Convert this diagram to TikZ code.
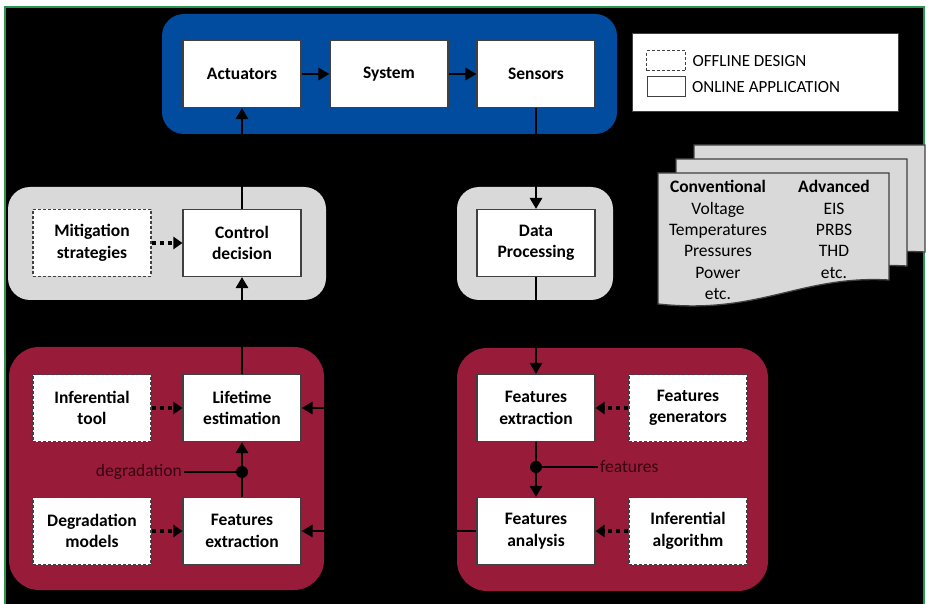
\documentclass[tikz,border=0pt]{standalone}
\definecolor{ctrlBlue}{RGB}{1,76,158}
\definecolor{stageRed}{RGB}{152,27,58}
\definecolor{panelGray}{RGB}{217,217,217}
\definecolor{edgeGray}{RGB}{64,64,64}
\definecolor{labelRed}{RGB}{55,4,16}
\definecolor{frameGreen}{RGB}{40,150,80}
\usepackage{fontspec}
\setmainfont{Carlito}
\usepackage{tikz}
\usetikzlibrary{arrows.meta,positioning,calc}

\begin{document}
\begin{tikzpicture}[x=1pt,y=-1pt,
        online/.style={draw=edgeGray, line width=1.1pt, fill=white,
          minimum width=118pt, minimum height=67pt, inner sep=0pt, align=center,
          font=\fontsize{17.5}{21.5}\selectfont\bfseries},
        offline/.style={online, dash pattern=on 3pt off 2pt},
        panel/.style={rounded corners=22pt},
        sig/.style={line width=2.8pt, -{Triangle[length=11pt,width=12pt]}},
        design/.style={line width=3.5pt, dash pattern=on 4.5pt off 3.5pt,
          -{Triangle[length=9pt,width=12pt]}},
        lbl/.style={text=labelRed, inner sep=2pt, font=\fontsize{17.5}{20}\selectfont},
        sheet/.style={fill=panelGray, draw=edgeGray, line width=1.3pt},
        >=Stealth
      ]
        \useasboundingbox (0,0) rectangle (930,604);
        % frame
        \fill[black] (5,7) rectangle (924,604);
        \draw[frameGreen, line width=1.2pt] (5,604) -- (5,7) -- (924,7) -- (924,604);

        % panels
        \fill[ctrlBlue, panel] (162,14) rectangle (617,134);
        \fill[panelGray, panel] (8,187) rectangle (326,300);
        \fill[panelGray, panel] (457,187) rectangle (613,300);
        \fill[stageRed, rounded corners=30pt] (9,347) rectangle (324,590);
        \fill[stageRed, rounded corners=30pt] (457,348) rectangle (768,591);

        % loop
        \node[online] (act) at (242,74) {Actuators};
        \node[online] (sys) at (389,74) {System};
        \node[online] (sen) at (536,74) {Sensors};
        \node[offline] (mit) at (92,243) {Mitigation\\strategies};
        \node[online] (ctl) at (242,243) {Control\\decision};
        \node[online] (dat) at (536,243) {Data\\Processing};

        % lifetime block
        \node[offline] (inf) at (92,408) {Inferential\\tool};
        \node[online] (lt) at (242,408) {Lifetime\\estimation};
        \node[offline] (deg) at (92,531) {Degradation\\models};
        \node[online] (fex1) at (242,531) {Features\\extraction};

        % features block
        \node[online] (fex2) at (536,408) {Features\\extraction};
        \node[offline] (gen) at (688,408) {Features\\generators};
        \node[online] (fan2) at (536,531) {Features\\analysis};
        \node[offline] (alg) at (688,531) {Inferential\\algorithm};

        \draw[sig] (act) -- (sys);
        \draw[sig] (sys) -- (sen);
        \draw[sig] (sen) -- (dat);
        \draw[sig] (dat) -- (fex2);
        \draw[sig] (fex2) -- (fan2);
        \draw[sig] (fex1) -- (lt);
        \draw[sig] (lt) -- (ctl);
        \draw[sig] (ctl) -- (act);

        \coordinate (bus) at (390,531);
        \draw[line width=2.8pt] (fan2.west) -- (bus);
        \draw[sig] (bus) |- (lt.east);
        \draw[sig] (bus) -- (fex1.east);

        \draw[design] (mit) -- (ctl);
        \draw[design] (inf) -- (lt);
        \draw[design] (deg) -- (fex1);
        \draw[design] (gen) -- (fex2);
        \draw[design] (alg) -- (fan2);

        % taps
        \coordinate (fdot) at (536,467);
        \fill (fdot) circle (6pt);
        \node[lbl, anchor=west] (ftxt) at (598,467) {features};
        \draw[line width=1.4pt] (fdot) -- (ftxt.west);
        \coordinate (ddot) at (242,472);
        \fill (ddot) circle (6pt);
        \node[lbl, anchor=east] (dtxt) at (184,472) {degradation};
        \draw[line width=1.4pt] (dtxt.east) -- (ddot);

        % legend
        \node[draw=edgeGray, line width=1pt, fill=white, minimum width=266pt,
          minimum height=78pt] (legend) at (765,73) {};
        \node[draw=edgeGray, line width=1pt, dash pattern=on 3pt off 2pt,
          minimum width=39pt, minimum height=20pt, inner sep=0pt] (offkey) at (666,61) {};
        \node[draw=edgeGray, line width=1pt,
          minimum width=38pt, minimum height=20pt, inner sep=0pt] (onkey) at (666,87) {};
        \node[right=3pt of offkey, font=\fontsize{17}{20}\selectfont] (offtxt) {OFFLINE DESIGN};
        \node[right=3pt of onkey, font=\fontsize{17}{20}\selectfont] (ontxt) {ONLINE APPLICATION};

        % measured signals
        \foreach \s in {2,1,0}
          \filldraw[sheet, shift={(18*\s,-14*\s)}] (658,173) -- (889,173) -- (889,280)
            .. controls (800,275) and (760,315) .. (658,304) -- cycle;
        \node[align=center, font=\fontsize{17.5}{21.3}\selectfont] (conv) at (718,240)
          {\textbf{Conventional}\\Voltage\\Temperatures\\Pressures\\Power\\etc.};
        \node[align=center, font=\fontsize{17.5}{21.3}\selectfont] (adv) at (834,229.5)
          {\textbf{Advanced}\\EIS\\PRBS\\THD\\etc.};
      \end{tikzpicture}
\end{document}
